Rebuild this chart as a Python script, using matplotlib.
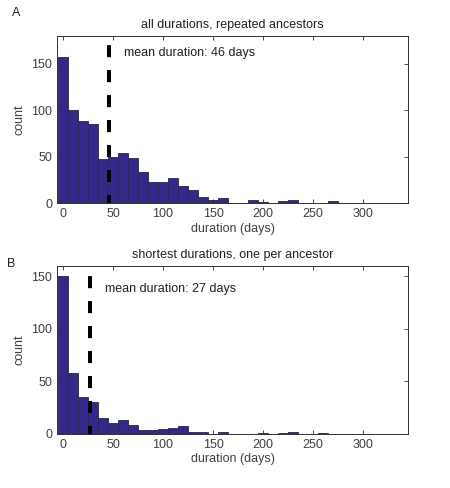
import numpy as np
import matplotlib
matplotlib.use('Agg')
import matplotlib.pyplot as plt

plt.rcParams['font.family'] = ['Liberation Sans', 'DejaVu Sans']
plt.rcParams['font.size'] = 9

# bin centres (days), 10-day bins
centers = np.arange(0, 280, 10)

# all durations, repeated ancestors
counts_all = [158, 100, 88, 85, 48, 50, 54, 49, 33, 23, 23, 27, 18, 14,
              7, 3, 5, 0, 0, 3, 1, 0, 2, 3, 0, 0, 0, 2]
# shortest durations, one per ancestor
counts_short = [150, 58, 35, 30, 15, 10, 13, 8, 4, 4, 5, 6, 7, 2,
                2, 0, 2, 0, 0, 0, 1, 0, 1, 2, 0, 0, 1, 0]

mean_all = 46
mean_short = 27

titles = ['all durations, repeated ancestors', 'shortest durations, one per ancestor']
ylims = [180, 160]
text_y = [162, 138]

bar_color = '#33298b'
edge_color = '#2a2a3a'
txt_color = '#404040'

fig = plt.figure(figsize=(4.5, 4.88), dpi=100)
ax1 = fig.add_axes([0.1267, 0.584, 0.78, 0.342])
ax2 = fig.add_axes([0.1267, 0.111, 0.78, 0.344])

for ax, counts, mean, title, ylim, ty in zip(
        [ax1, ax2], [counts_all, counts_short], [mean_all, mean_short],
        titles, ylims, text_y):
    ax.bar(centers, counts, width=10, color=bar_color, edgecolor=edge_color,
           linewidth=0.6)
    ax.axvline(mean, color='black', linestyle=(1, (3, 3.2)), linewidth=2.9)
    ax.text(mean + 15, ty, 'mean duration: %d days' % mean, fontsize=9,
            color='#202020', va='center')
    ax.set_xlim(-6, 345)
    ax.set_ylim(0, ylim)
    ax.set_xticks([0, 50, 100, 150, 200, 250, 300])
    ax.set_yticks([0, 50, 100, 150])
    ax.tick_params(direction='in', top=True, right=True, length=3,
                   colors='#303030', labelcolor=txt_color, labelsize=9, width=0.6)
    for s in ax.spines.values():
        s.set_color('#303030')
        s.set_linewidth(0.7)
    ax.set_title(title, fontsize=9, color='#202020', pad=6)
    ax.set_xlabel('duration (days)', fontsize=9, color=txt_color, labelpad=2)
    ax.set_ylabel('count', fontsize=9, color=txt_color, labelpad=4)

fig.text(12 / 450, 1 - 13 / 488, 'A', fontsize=9, color='#202020', va='center')
fig.text(7 / 450, 1 - 264 / 488, 'B', fontsize=9, color='#202020', va='center')

fig.savefig('out.png', dpi=100)
